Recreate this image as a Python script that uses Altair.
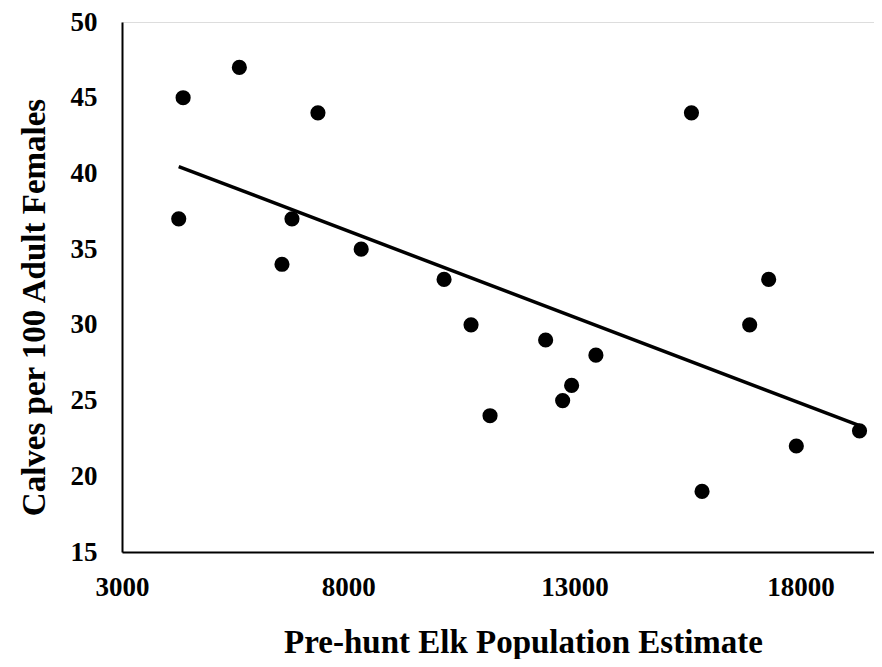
import altair as alt
import pandas as pd

# Pre-hunt elk population estimate (x) and calves per 100 adult females (y)
population = [4254, 4351, 5594, 6536, 6757, 7331, 8287, 10119, 10715, 11135,
              12364, 12740, 12938, 13475, 15587, 15821, 16874, 17294, 17905, 19302]
calves = [37, 45, 47, 34, 37, 44, 35, 33, 30, 24,
          29, 25, 26, 28, 44, 19, 30, 33, 22, 23]
x_ticks = [3000, 8000, 13000, 18000]
y_ticks = [15, 20, 25, 30, 35, 40, 45, 50]

df = pd.DataFrame({"pop": population, "calves": calves})

FONT = "Liberation Serif"

x_enc = alt.X(
    "pop:Q",
    scale=alt.Scale(domain=[3000, 19622], nice=False, zero=False),
    axis=alt.Axis(
        title="Pre-hunt Elk Population Estimate",
        values=x_ticks,
        format="d",
        grid=False,
        ticks=False,
        tickSize=0,
        domainColor="black",
        domainWidth=2,
        labelFont=FONT,
        labelFontWeight="bold",
        labelFontSize=27,
        labelColor="black",
        labelPadding=22,
        labelFlush=False,
        labelOverlap=False,
        titleFont=FONT,
        titleFontWeight="bold",
        titleFontSize=33,
        titleColor="black",
        titleBaseline="alphabetic",
        titleX=401,
        titleY=100,
    ),
)
y_enc = alt.Y(
    "calves:Q",
    scale=alt.Scale(domain=[15, 50], nice=False, zero=False),
    axis=alt.Axis(
        title="Calves per 100 Adult Females",
        values=y_ticks,
        grid=False,
        ticks=False,
        tickSize=0,
        domainColor="black",
        domainWidth=2,
        labelFont=FONT,
        labelFontWeight="bold",
        labelFontSize=27,
        labelColor="black",
        labelPadding=25,
        labelOverlap=False,
        titleFont=FONT,
        titleFontWeight="bold",
        titleFontSize=33,
        titleColor="black",
        titleBaseline="alphabetic",
        titleAngle=270,
        titleX=-78,
        titleY=285,
    ),
)

base = alt.Chart(df)
points = base.mark_circle(size=230, color="black", opacity=1).encode(x=x_enc, y=y_enc)
trend = (
    base.mark_line(color="black", strokeWidth=3.5)
    .transform_regression("pop", "calves")
    .encode(x=x_enc, y=y_enc)
)

chart = (
    alt.layer(trend, points)
    .properties(
        width=752,
        height=530,
        autosize="none",
        padding={"left": 114, "top": 14, "right": 0, "bottom": 107},
    )
    .configure_view(stroke=None)
    .configure(background="white")
)

chart.save("out.html", embed_options={"renderer": "svg", "actions": False})
